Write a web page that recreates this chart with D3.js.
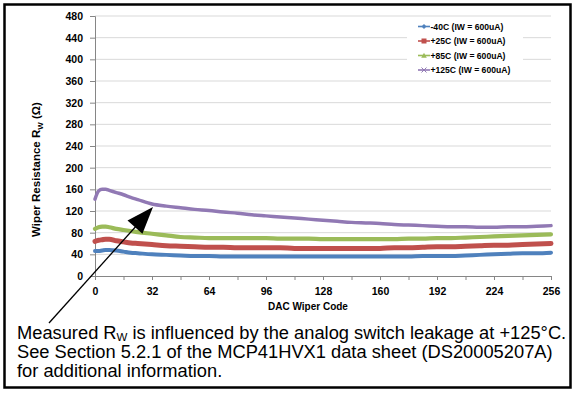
<!DOCTYPE html>
<html><head><meta charset="utf-8">
<script src="https://cdn.jsdelivr.net/npm/d3@7"></script>
<style>
html,body{margin:0;padding:0;background:#fff;}
svg{display:block;}
text{font-family:"Liberation Sans",Arial,sans-serif;}
</style></head>
<body>
<svg id="chart" width="573" height="394"></svg>
<script>
// ---- data ----
const codes = [0,2,4,6,8,12,16,20,24,32,40,48,56,64,72,80,88,96,104,112,120,128,136,144,152,160,168,176,184,192,200,208,216,224,232,240,248,256];
const seriesNames = ["-40C (IW = 600uA)","+25C (IW = 600uA)","+85C (IW = 600uA)","+125C (IW = 600uA)"];
const rwMinus40 = [46,46,47,48,48,47,45,43,42,40,39,38,37,37,36,36,36,36,36,36,36,36,36,36,36,36,36,36,37,37,37,38,39,40,41,42,42,43];
const rwPlus25  = [64,66,67,68,68,65,63,61,60,58,56,55,54,53,53,52,52,52,52,51,51,51,51,51,51,51,52,52,53,54,54,55,56,57,57,58,59,60];
const rwPlus85  = [87,90,91,91,90,87,85,83,81,78,75,72,71,70,70,70,70,70,69,69,69,68,68,68,68,68,68,69,69,70,70,71,72,73,74,75,76,77];
const rwPlus125 = [142,157,160,160,158,154,150,145,141,133,129,126,123,121,118,116,113,111,109,107,105,103,101,99,98,97,95,94,93,92,91,91,90,90,91,91,92,93];
const yTicks = [0,40,80,120,160,200,240,280,320,360,400,440,480];
const xTicks = [0,32,64,96,128,160,192,224,256];
const xMinorTicks = [0,16,32,48,64,80,96,112,128,144,160,176,192,208,224,240,256];
const noteLines = ["Measured R|W| is influenced by the analog switch leakage at +125°C.",
                   "See Section 5.2.1 of the MCP41HVX1 data sheet (DS20005207A)",
                   "for additional information."];

const colors = ["#4f81bd","#c0504d","#9bbb59","#9179b4"];
const widths = [4,5,4.2,3.5];
const markers = ["diamond","square","triangle","cross"];
const allSeries = [rwMinus40,rwPlus25,rwPlus85,rwPlus125];

const svg = d3.select("#chart");
// outer frame
svg.append("rect").attr("x",4.5).attr("y",4.5).attr("width",566).attr("height",383)
  .attr("fill","#fff").attr("stroke","#000").attr("stroke-width",2.5);

const x = d3.scaleLinear().domain([0,256]).range([95,551]);
const y = d3.scaleLinear().domain([0,480]).range([276,16]);

// gridlines
svg.append("g").selectAll("line").data(yTicks.filter(d=>d>0)).join("line")
  .attr("x1",95).attr("x2",551).attr("y1",d=>y(d)).attr("y2",d=>y(d))
  .attr("stroke","#d9d9d9").attr("stroke-width",1);

// y axis
const yAxis = d3.axisLeft(y).tickValues(yTicks).tickSize(5).tickPadding(7);
const gy = svg.append("g").attr("transform","translate(95,0)").call(yAxis);
gy.select(".domain").attr("stroke","#868686");
gy.selectAll(".tick line").attr("stroke","#868686");
gy.selectAll(".tick text").attr("font-size","10.5px").attr("font-weight","bold").attr("fill","#000")
  .attr("font-family","'Liberation Sans',Arial,sans-serif");

// x axis
const xAxis = d3.axisBottom(x).tickValues(xMinorTicks).tickSize(4).tickPadding(8)
  .tickFormat(d=>xTicks.includes(d)?d:"");
const gx = svg.append("g").attr("transform","translate(0,276)").call(xAxis);
gx.select(".domain").attr("stroke","#868686");
gx.selectAll(".tick line").attr("stroke","#868686");
gx.selectAll(".tick text").attr("font-size","10.5px").attr("font-weight","bold").attr("fill","#000")
  .attr("font-family","'Liberation Sans',Arial,sans-serif");

// series
const line = d3.line().x((d,i)=>x(codes[i])).y(d=>y(d)).curve(d3.curveMonotoneX);
allSeries.forEach((s,k)=>{
  svg.append("path").datum(s).attr("d",line).attr("fill","none")
    .attr("stroke",colors[k]).attr("stroke-width",widths[k])
    .attr("stroke-linejoin","round").attr("stroke-linecap","round");
});

// legend
const lg = svg.append("g");
lg.append("rect").attr("x",407).attr("y",20).attr("width",116).attr("height",58).attr("fill","#fff");
const legY = [26.5,41,55.5,70];
seriesNames.forEach((n,k)=>{
  const g = lg.append("g").attr("transform",`translate(0,${legY[k]})`);
  g.append("line").attr("x1",418).attr("x2",430).attr("y1",0).attr("y2",0)
    .attr("stroke",colors[k]).attr("stroke-width",1.6);
  const m = markers[k];
  if(m==="diamond") g.append("path").attr("d","M424,-2.5L426.5,0L424,2.5L421.5,0Z").attr("fill",colors[k]);
  if(m==="square") g.append("rect").attr("x",421.5).attr("y",-2.5).attr("width",5).attr("height",5).attr("fill",colors[k]);
  if(m==="triangle") g.append("path").attr("d","M424,-2.8L426.8,2.2L421.2,2.2Z").attr("fill",colors[k]);
  if(m==="cross") g.append("path").attr("d","M421.5,-2.5L426.5,2.5M426.5,-2.5L421.5,2.5").attr("stroke",colors[k]).attr("stroke-width",1);
  g.append("text").attr("x",430.5).attr("y",3).attr("font-size","8.6px").attr("font-weight","bold")
    .attr("fill","#000").text(n);
});

// axis titles
svg.append("text").attr("x",268).attr("y",310).attr("font-size","10px").attr("font-weight","bold")
  .text("DAC Wiper Code");
const yt = svg.append("text").attr("transform","translate(40,237) rotate(-90)")
  .attr("font-size","11.5px").attr("font-weight","bold");
yt.append("tspan").text("Wiper Resistance R");
yt.append("tspan").attr("font-size","8px").attr("dy",2.5).text("W");
yt.append("tspan").attr("dy",-2.5).text(" (Ω)");

// arrow annotation
const tail=[49,323], tip=[153,207];
svg.append("line").attr("x1",tail[0]).attr("y1",tail[1]).attr("x2",tip[0]-6).attr("y2",tip[1]+7)
  .attr("stroke","#000").attr("stroke-width",1.3);
{
  const dx=tip[0]-tail[0], dy=tip[1]-tail[1], L=Math.hypot(dx,dy);
  const ux=dx/L, uy=dy/L, nx=-uy, ny=ux, hl=27, hw=10;
  const bx=tip[0]-hl*ux, by=tip[1]-hl*uy;
  svg.append("path").attr("d",`M${tip[0]},${tip[1]}L${bx+hw*nx},${by+hw*ny}L${bx-hw*nx},${by-hw*ny}Z`).attr("fill","#000");
}

// note text
const noteY=[339,358,377];
noteLines.forEach((t,i)=>{
  const tx = svg.append("text").attr("x",17).attr("y",noteY[i]).attr("font-size","18.3px").attr("fill","#000");
  const parts = t.split("|");
  if(parts.length===3){
    tx.append("tspan").text(parts[0]);
    tx.append("tspan").attr("font-size","11.5px").attr("dy",2).text(parts[1]);
    tx.append("tspan").attr("dy",-2).text(parts[2]);
  } else tx.text(t);
});
</script>
</body></html>
